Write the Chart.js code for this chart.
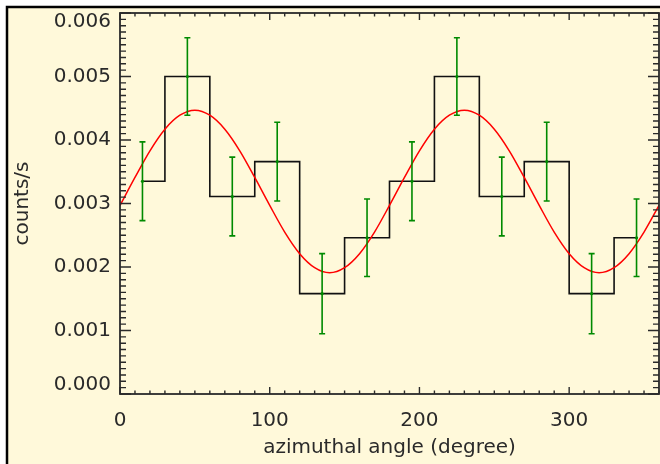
<!DOCTYPE html>
<html>
<head>
<meta charset="utf-8">
<script src="https://cdn.jsdelivr.net/npm/chart.js@4.4.1/dist/chart.umd.min.js"></script>
<style>
  html, body { margin: 0; padding: 0; background: #fff; }
  #wrap { width: 660px; height: 464px; }
</style>
</head>
<body>
<div id="wrap"><canvas id="chartAzimuth" width="660" height="464"></canvas></div>
<script>
// Histogram bins (centers in degrees) and count rates
const binCenters = [15, 45, 75, 105, 135, 165, 195, 225, 255, 285, 315, 345];
const binRates = [0.00335, 0.00500, 0.00311, 0.00366, 0.00158, 0.00246,
                  0.00335, 0.00500, 0.00311, 0.00366, 0.00158, 0.00246];
const binErrors = [0.00062, 0.00061, 0.00062, 0.00062, 0.00063, 0.00061,
                   0.00062, 0.00061, 0.00062, 0.00062, 0.00063, 0.00061];

// Fitted curve, every 10 degrees
const fitAngles = [0, 10, 20, 30, 40, 50, 60, 70, 80, 90, 100, 110, 120, 130, 140, 150, 160, 170, 180,
                   190, 200, 210, 220, 230, 240, 250, 260, 270, 280, 290, 300, 310, 320, 330, 340, 350, 360];
const fitRates = [0.00297, 0.00341, 0.00383, 0.00417, 0.00439, 0.00447, 0.00439, 0.00417, 0.00383, 0.00341,
                  0.00297, 0.00255, 0.00221, 0.00199, 0.00191, 0.00199, 0.00221, 0.00255, 0.00297,
                  0.00341, 0.00383, 0.00417, 0.00439, 0.00447, 0.00439, 0.00417, 0.00383, 0.00341,
                  0.00297, 0.00255, 0.00221, 0.00199, 0.00191, 0.00199, 0.00221, 0.00255, 0.00297];

// Axis ticks
const xMajorTicks = [0, 100, 200, 300];
const xMinorStep = 10;
const yMajorTicks = [0.000, 0.001, 0.002, 0.003, 0.004, 0.005, 0.006];
const yMinorStep = 0.0001;

const colors = {
    cream: '#fff9da',
    ink: '#2a2a2a',
    fit: '#ff0000',
    err: '#008a00'
};
const fontFamily = '"DejaVu Sans", "Liberation Sans", sans-serif';

function isMajor(list, v) {
    return list.some(m => Math.abs(m - v) < 1e-9);
}

// Page frame and cream background
const framePlugin = {
    id: 'frame',
    beforeDraw(chart) {
        const ctx = chart.ctx;
        ctx.save();
        ctx.fillStyle = '#ffffff';
        ctx.fillRect(0, 0, chart.width, chart.height);
        ctx.fillStyle = colors.cream;
        ctx.fillRect(7, 7, chart.width - 7, chart.height - 7);
        ctx.strokeStyle = '#000';
        ctx.lineWidth = 2.5;
        ctx.beginPath();
        ctx.moveTo(7, chart.height);
        ctx.lineTo(7, 7);
        ctx.lineTo(chart.width, 7);
        ctx.stroke();
        ctx.restore();
    }
};

// Axis box with inward ticks on all four sides
const boxPlugin = {
    id: 'box',
    afterDraw(chart) {
        const ctx = chart.ctx;
        const a = chart.chartArea;
        const xs = chart.scales.x, ys = chart.scales.y;
        ctx.save();
        ctx.strokeStyle = '#2a2a2a';
        ctx.lineWidth = 1.8;
        ctx.strokeRect(a.left, a.top, a.right - a.left, a.bottom - a.top);
        ctx.lineWidth = 1.4;
        ctx.beginPath();
        xs.ticks.forEach(t => {
            const px = xs.getPixelForValue(t.value);
            const len = isMajor(xMajorTicks, t.value) ? 7 : 3.5;
            ctx.moveTo(px, a.bottom); ctx.lineTo(px, a.bottom - len);
            ctx.moveTo(px, a.top); ctx.lineTo(px, a.top + len);
        });
        ys.ticks.forEach(t => {
            const py = ys.getPixelForValue(t.value);
            const len = isMajor(yMajorTicks, t.value) ? 11 : 6;
            ctx.moveTo(a.left, py); ctx.lineTo(a.left + len, py);
            ctx.moveTo(a.right, py); ctx.lineTo(a.right - len, py);
        });
        ctx.stroke();
        ctx.restore();
    }
};

// Green error bars at the bin centers
const errorBarPlugin = {
    id: 'errorBars',
    afterDatasetsDraw(chart) {
        const ctx = chart.ctx;
        const xs = chart.scales.x, ys = chart.scales.y;
        ctx.save();
        ctx.strokeStyle = colors.err;
        ctx.fillStyle = colors.err;
        ctx.lineWidth = 1.6;
        binCenters.forEach((c, i) => {
            const px = xs.getPixelForValue(c);
            const yHi = ys.getPixelForValue(binRates[i] + binErrors[i]);
            const yLo = ys.getPixelForValue(binRates[i] - binErrors[i]);
            const yMid = ys.getPixelForValue(binRates[i]);
            ctx.beginPath();
            ctx.moveTo(px, yHi); ctx.lineTo(px, yLo);
            ctx.moveTo(px - 3, yHi); ctx.lineTo(px + 3, yHi);
            ctx.moveTo(px - 3, yLo); ctx.lineTo(px + 3, yLo);
            ctx.stroke();
            ctx.beginPath();
            ctx.arc(px, yMid, 1.6, 0, Math.PI * 2);
            ctx.fill();
        });
        ctx.restore();
    }
};

const ctx = document.getElementById('chartAzimuth').getContext('2d');
new Chart(ctx, {
    type: 'line',
    data: {
        datasets: [{
            label: 'fit',
            data: fitAngles.map((a, i) => ({ x: a, y: fitRates[i] })),
            borderColor: colors.fit,
            borderWidth: 1.5,
            pointRadius: 0,
            cubicInterpolationMode: 'monotone',
            fill: false
        }, {
            label: 'histogram',
            data: binCenters.map((c, i) => ({ x: c, y: binRates[i] })),
            borderColor: '#111',
            borderWidth: 1.6,
            pointRadius: 0,
            stepped: 'middle',
            fill: false
        }]
    },
    options: {
        responsive: false,
        animation: false,
        events: [],
        layout: { padding: { left: 0, top: 13, right: 1, bottom: 0 } },
        plugins: {
            legend: { display: false },
            tooltip: { enabled: false }
        },
        scales: {
            x: {
                type: 'linear',
                min: 0,
                max: 360,
                grid: { display: false, drawTicks: false },
                border: { display: false },
                afterBuildTicks: scale => {
                    const ticks = [];
                    for (let v = 0; v <= 360; v += xMinorStep) ticks.push({ value: v });
                    scale.ticks = ticks;
                },
                afterFit: scale => {
                    scale.height = 70;
                    scale.paddingLeft = 0;
                    scale.paddingRight = 0;
                },
                ticks: {
                    autoSkip: false,
                    maxRotation: 0,
                    padding: 15,
                    color: colors.ink,
                    font: { family: fontFamily, size: 20 },
                    callback: v => isMajor(xMajorTicks, v) ? String(v) : ''
                },
                title: {
                    display: true,
                    text: 'azimuthal angle (degree)',
                    color: colors.ink,
                    font: { family: fontFamily, size: 20 },
                    padding: { top: 0, bottom: 4 }
                }
            },
            y: {
                type: 'linear',
                min: 0,
                max: 0.006,
                grid: { display: false, drawTicks: false },
                border: { display: false },
                afterBuildTicks: scale => {
                    const ticks = [];
                    for (let k = 0; k <= 60; k++) ticks.push({ value: k * yMinorStep });
                    scale.ticks = ticks;
                },
                afterFit: scale => {
                    scale.width = 120;
                    scale.paddingTop = 0;
                    scale.paddingBottom = 0;
                },
                ticks: {
                    autoSkip: false,
                    padding: 9,
                    color: colors.ink,
                    font: { family: fontFamily, size: 20, lineHeight: 0.9 },
                    callback: v => {
                        if (!isMajor(yMajorTicks, v)) return '';
                        const s = v.toFixed(3);
                        if (v > 0.0059) return ['', s];
                        if (v < 0.0001) return [s, ''];
                        return s;
                    }
                },
                title: {
                    display: true,
                    text: 'counts/s',
                    color: colors.ink,
                    font: { family: fontFamily, size: 20 },
                    padding: { top: 11, bottom: 0 }
                }
            }
        }
    },
    plugins: [framePlugin, boxPlugin, errorBarPlugin]
});
</script>
</body>
</html>
